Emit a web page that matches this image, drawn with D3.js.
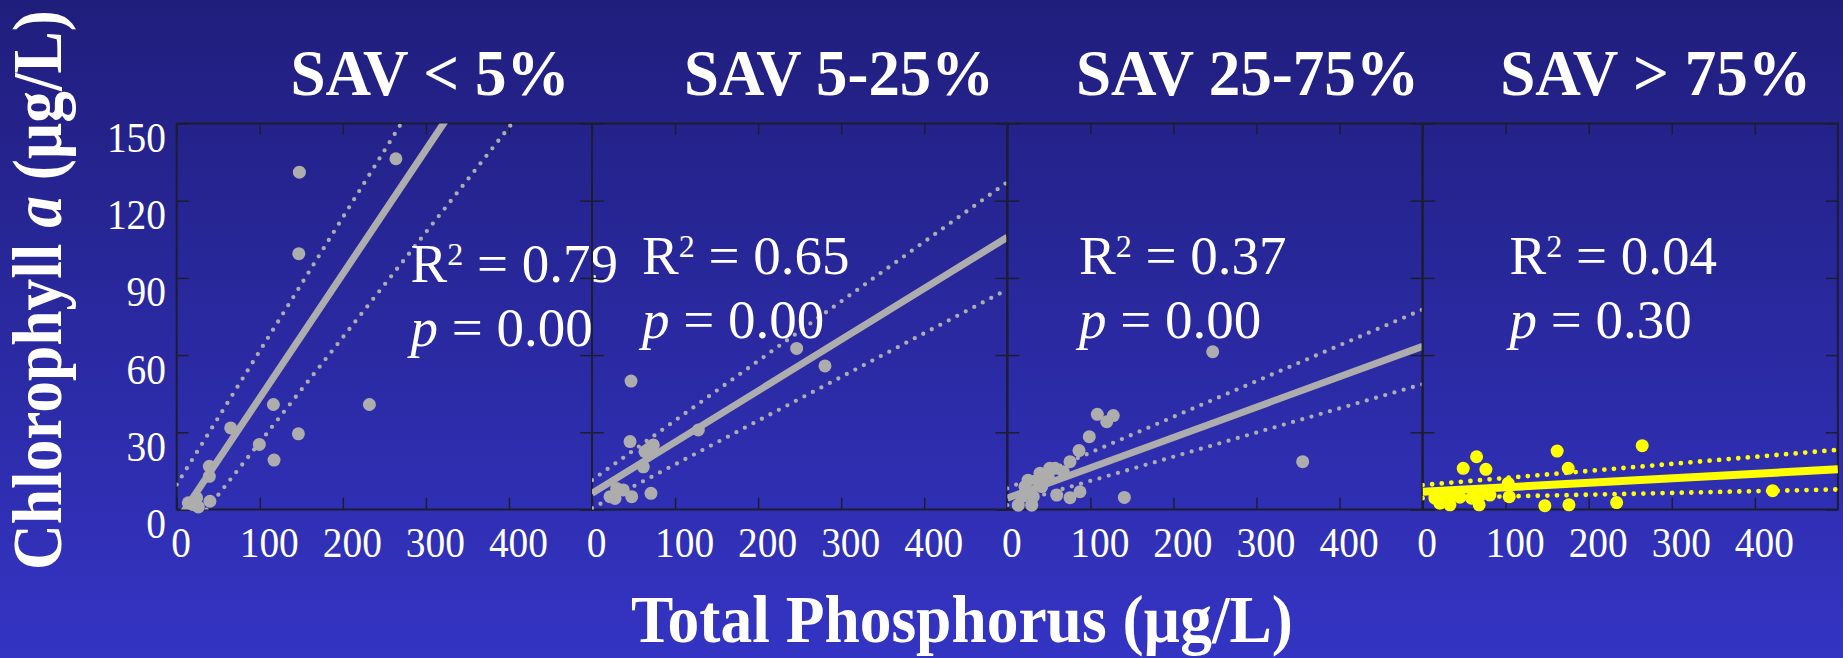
<!DOCTYPE html>
<html>
<head>
<meta charset="utf-8">
<script src="https://cdn.jsdelivr.net/npm/d3@7"></script>
<style>
  html, body { margin: 0; padding: 0; overflow: hidden; background: #2a29a0; }
  svg { display: block; }
  text { font-family: "Liberation Serif", "Times New Roman", serif; fill: #fff; }
</style>
</head>
<body>
<svg id="chart" width="1843" height="658" viewBox="0 0 1843 658"></svg>
<script>
// ---- data ----
const panelTitles = ["SAV < 5%", "SAV 5-25%", "SAV 25-75%", "SAV > 75%"];
const r2Labels = ["0.79", "0.65", "0.37", "0.04"];
const pLabels = ["0.00", "0.00", "0.00", "0.30"];
const xTicks = [0, 100, 200, 300, 400];
const yTicks = [0, 30, 60, 90, 120, 150];

// total phosphorus (x), chlorophyll a (y)
const savUnder5 = [
  [147.7, 131.1], [263.9, 136.3], [147, 99.4], [232, 40.8], [116.4, 40.8],
  [146.5, 29.4], [99.5, 25.3], [117.2, 19.2], [65, 31.7], [39.3, 16.8],
  [39.3, 12.9], [40, 3.2], [20, 1.9], [14, 2.6], [24, 4.5], [26, 1]
];
const sav5to25 = [
  [47, 49.9], [246.4, 62.6], [280.5, 55.8], [45.8, 26.4], [67.8, 23.4],
  [73.8, 25.1], [63.8, 22.5], [128, 30.9], [61.8, 16.6], [71, 6.3],
  [47.8, 5], [37.7, 7.6], [27.7, 4.3], [21.7, 5], [29.7, 8.2]
];
const sav25to75 = [
  [247.3, 61.3], [355.6, 18.6], [140.9, 4.7], [108.4, 37], [127.6, 36.5],
  [119.7, 34.1], [98.7, 28.3], [86.3, 22.9], [75.5, 18.6], [87.5, 6.9],
  [75.5, 4.6], [59.5, 5.6], [57.4, 16], [39.4, 14.1], [49.4, 12.7],
  [31.3, 5], [29.4, 1.7], [13.2, 1.7], [21.3, 8.9], [41.4, 8.9],
  [67.4, 14.7], [37, 11.4], [25, 11.4], [17, 5], [51, 16]
];
const savOver75 = [
  [264.4, 24.8], [162, 22.7], [65, 20.5], [48.9, 16], [76.2, 15.6],
  [175.3, 16], [421.4, 7.3], [233.6, 2.7], [176.2, 1.8], [147.2, 1.5],
  [104.3, 5], [103.1, 10.2], [68.1, 1.8], [59, 4.4], [44.9, 4.8],
  [32.9, 1.8], [20.8, 2.4], [14.8, 4.4], [34.9, 5.6], [81, 5.6],
  [71, 6], [25, 6]
];
const panelPoints = [savUnder5, sav5to25, sav25to75, savOver75];

// regression lines as [intercept, slope]
const fitLines = [[-4.85, 0.482], [6.3, 0.199], [4.4, 0.118], [6.9, 0.0174]];
const upperBands = [[9.7, 0.519], [11.4, 0.2316], [8.2, 0.139], [9.5, 0.0274]];
const lowerBands = [[-14.7, 0.408], [0.5, 0.170], [1.7, 0.094], [4.4, 0.0068]];
const seriesColors = ["#adadad", "#adadad", "#adadad", "#ffff00"];

// ---- layout ----
const svg = d3.select("#chart");
const W = 1843, H = 658;
const firstLeft = 176.7, panelW = 415.3;
const plotTop = 123.5, plotBottom = 509.5;
const titleCx = [430, 839, 1247.5, 1655.6];
const titleW = [279, 310, 343, 311];
const statsX = [410.5, 642, 1079, 1509.5];
const statsY = [281.7, 273.5, 273.5, 273.5];

// background gradient
const defs = svg.append("defs");
const grad = defs.append("linearGradient")
  .attr("id", "bg").attr("x1", 0).attr("y1", 0).attr("x2", 0).attr("y2", 1);
grad.append("stop").attr("offset", "0%").attr("stop-color", "#201e7c");
grad.append("stop").attr("offset", "100%").attr("stop-color", "#3434c4");
svg.append("rect").attr("width", W).attr("height", H).attr("fill", "url(#bg)");

const y = d3.scaleLinear().domain([0, 150]).range([plotBottom, plotTop]);

function squeeze(sel, cx, cy, targetW, rotate) {
  const w = sel.node().getComputedTextLength();
  sel.attr("transform",
    `translate(${cx},${cy})${rotate ? " rotate(-90)" : ""} scale(${targetW / w},1)`);
}

panelPoints.forEach((points, i) => {
  const left = firstLeft + i * panelW;
  const right = left + panelW;
  const x = d3.scaleLinear().domain([0, 500]).range([left, right]);
  const color = seriesColors[i];

  defs.append("clipPath").attr("id", "clip" + i)
    .append("rect")
    .attr("x", left).attr("y", plotTop)
    .attr("width", panelW).attr("height", plotBottom - plotTop);

  const g = svg.append("g");

  // ticks on all four sides, pointing inward
  const tickColor = "#1d1d30";
  const bottomAxis = g.append("g")
    .attr("transform", `translate(0,${plotBottom})`)
    .call(d3.axisBottom(x).tickValues(xTicks).tickSizeInner(-12).tickSizeOuter(0).tickPadding(0));
  const topAxis = g.append("g")
    .attr("transform", `translate(0,${plotTop})`)
    .call(d3.axisTop(x).tickValues(xTicks).tickSizeInner(-11).tickSizeOuter(0).tickFormat(""));
  const leftAxis = g.append("g")
    .attr("transform", `translate(${left},0)`)
    .call(d3.axisLeft(y).tickValues(yTicks).tickSizeInner(-12).tickSizeOuter(0)
      .tickFormat(i === 0 ? d3.format("d") : ""));
  const rightAxis = g.append("g")
    .attr("transform", `translate(${right},0)`)
    .call(d3.axisRight(y).tickValues(yTicks).tickSizeInner(-12).tickSizeOuter(0).tickFormat(""));

  [bottomAxis, topAxis, leftAxis, rightAxis].forEach(a => {
    a.select(".domain").remove();
    a.selectAll("line").attr("stroke", tickColor).attr("stroke-width", 1.5);
  });

  bottomAxis.selectAll("text")
    .attr("font-size", 43)
    .attr("fill", "#fff")
    .attr("y", 47.5).attr("dy", 0)
    .attr("dx", d => d === 0 ? 4 : 9)
    .attr("textLength", d => String(d).length * 19.7)
    .attr("lengthAdjust", "spacingAndGlyphs");

  if (i === 0) {
    leftAxis.selectAll("text")
      .attr("font-size", 43)
      .attr("fill", "#fff")
      .attr("x", -10.7).attr("dy", 0).attr("y", 28)
      .attr("textLength", d => String(d).length * 19.7)
      .attr("lengthAdjust", "spacingAndGlyphs");
  }

  // frame
  g.append("rect")
    .attr("x", left).attr("y", plotTop)
    .attr("width", panelW).attr("height", plotBottom - plotTop)
    .attr("fill", "none").attr("stroke", tickColor).attr("stroke-width", 2);

  // points
  g.append("g").selectAll("circle")
    .data(points).join("circle")
    .attr("cx", d => x(d[0])).attr("cy", d => y(d[1]))
    .attr("r", 6.5).attr("fill", color);

  // fit line and confidence bands
  const lineGen = d3.line().x(d => x(d[0])).y(d => y(d[1]));
  const toPath = ([a, b]) => [[0, a], [500, a + 500 * b]];
  const lines = g.append("g").attr("clip-path", `url(#clip${i})`);
  [upperBands[i], lowerBands[i]].forEach(band => {
    lines.append("path")
      .attr("d", lineGen(toPath(band)))
      .attr("fill", "none").attr("stroke", color)
      .attr("stroke-width", i === 3 ? 4.8 : 4.3)
      .attr("stroke-linecap", "round")
      .attr("stroke-dasharray", "0 9.6");
  });
  lines.append("path")
    .attr("d", lineGen(toPath(fitLines[i])))
    .attr("fill", "none").attr("stroke", color)
    .attr("stroke-width", i === 3 ? 8 : 7);

  // R^2 and p
  const r2 = svg.append("text")
    .attr("x", statsX[i]).attr("y", statsY[i]).attr("font-size", 55);
  r2.append("tspan").text("R");
  r2.append("tspan").attr("font-size", 32).attr("dy", -17).text("2");
  r2.append("tspan").attr("dy", 17).text(" = " + r2Labels[i]);

  const p = svg.append("text")
    .attr("x", statsX[i]).attr("y", statsY[i] + 64).attr("font-size", 55);
  p.append("tspan").attr("font-style", "italic").text("p");
  p.append("tspan").text(" = " + pLabels[i]);

  // panel title
  const t = svg.append("text")
    .attr("text-anchor", "middle")
    .attr("font-size", 66).attr("font-weight", "bold")
    .text(panelTitles[i]);
  squeeze(t, titleCx[i], 95, titleW[i], false);
});

// axis titles
const xTitle = svg.append("text")
  .attr("text-anchor", "middle").attr("font-size", 68).attr("font-weight", "bold")
  .text("Total Phosphorus (µg/L)");
squeeze(xTitle, 962, 642, 662, false);

const yTitle = svg.append("text")
  .attr("text-anchor", "middle").attr("font-size", 70).attr("font-weight", "bold");
yTitle.append("tspan").text("Chlorophyll ");
yTitle.append("tspan").attr("font-style", "italic").text("a");
yTitle.append("tspan").text(" (µg/L)");
squeeze(yTitle, 61, 290, 560, true);
</script>
</body>
</html>
